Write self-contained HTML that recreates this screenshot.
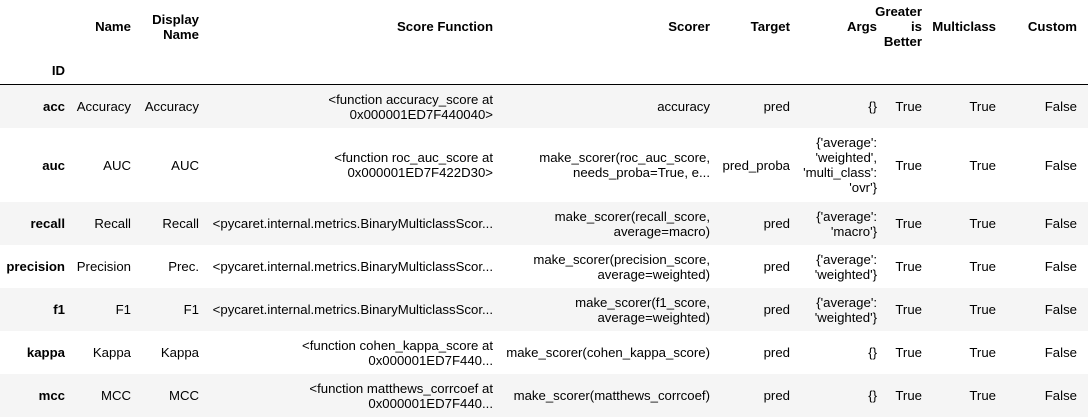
<!DOCTYPE html>
<html><head><meta charset="utf-8"><style>
body{margin:0;width:1088px;height:419px;background:#fff;font-family:"Liberation Sans",Arial,sans-serif;font-size:13.2px;color:#000;position:relative;overflow:hidden}
.c{position:absolute;display:flex;align-items:center;justify-content:flex-end;text-align:right;line-height:15px;white-space:nowrap}
.b{font-weight:bold}
.s{position:absolute;left:0;width:1088px;background:#f5f5f5}
</style></head><body>
<div style="position:absolute;left:0;top:84px;width:1088px;height:1px;background:#000"></div>
<div class="s" style="top:85px;height:43px"></div>
<div class="s" style="top:202px;height:43px"></div>
<div class="s" style="top:288px;height:43px"></div>
<div class="s" style="top:374px;height:43px"></div>
<div id="t"></div>
<script>
var cols=[[0,65],[70,131],[137,199],[205,493],[500,710],[715,790],[795,877],[880,922],[925,996],[1000,1077]];
var hdr=["","Name","Display<br>Name","Score Function","Scorer","Target","Args","Greater<br>is<br>Better","Multiclass","Custom"];
var rows=[[85,128,["acc","Accuracy","Accuracy","&lt;function accuracy_score at<br>0x000001ED7F440040&gt;","accuracy","pred","{}","True","True","False"]],
[128,202,["auc","AUC","AUC","&lt;function roc_auc_score at<br>0x000001ED7F422D30&gt;","make_scorer(roc_auc_score,<br>needs_proba=True, e...","pred_proba","{'average':<br>'weighted',<br>'multi_class':<br>'ovr'}","True","True","False"]],
[202,245,["recall","Recall","Recall","&lt;pycaret.internal.metrics.BinaryMulticlassScor...","make_scorer(recall_score,<br>average=macro)","pred","{'average':<br>'macro'}","True","True","False"]],
[245,288,["precision","Precision","Prec.","&lt;pycaret.internal.metrics.BinaryMulticlassScor...","make_scorer(precision_score,<br>average=weighted)","pred","{'average':<br>'weighted'}","True","True","False"]],
[288,331,["f1","F1","F1","&lt;pycaret.internal.metrics.BinaryMulticlassScor...","make_scorer(f1_score,<br>average=weighted)","pred","{'average':<br>'weighted'}","True","True","False"]],
[331,374,["kappa","Kappa","Kappa","&lt;function cohen_kappa_score at<br>0x000001ED7F440...","make_scorer(cohen_kappa_score)","pred","{}","True","True","False"]],
[374,417,["mcc","MCC","MCC","&lt;function matthews_corrcoef at<br>0x000001ED7F440...","make_scorer(matthews_corrcoef)","pred","{}","True","True","False"]]];
var h="";
function cell(x0,x1,y0,y1,txt,b){h+='<div class="c'+(b?' b':'')+'" style="left:'+x0+'px;width:'+(x1-x0)+'px;top:'+y0+'px;height:'+(y1-y0)+'px">'+txt+'</div>';}
for(var i=0;i<cols.length;i++)cell(cols[i][0],cols[i][1],0,53,hdr[i],1);
cell(0,65,60,80,"ID",1);
rows.forEach(function(r){for(var i=0;i<cols.length;i++)cell(cols[i][0],cols[i][1],r[0],r[1],r[2][i],i==0);});
document.getElementById("t").innerHTML=h;
</script>
</body></html>
